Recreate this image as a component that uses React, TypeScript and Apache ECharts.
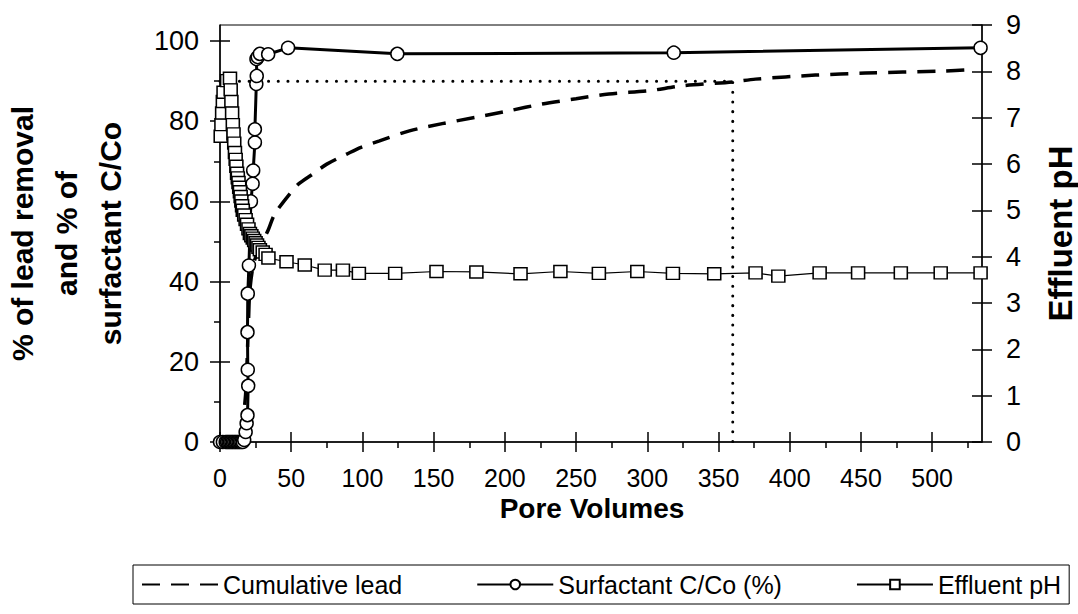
import React, { useEffect, useRef } from "react";
import * as echarts from "echarts";

// ---- data ----
const leadPV = [0, 14, 16, 17, 18, 19, 20, 21, 24, 30, 34, 38.5, 49, 55, 65, 75, 89, 99, 112, 133, 156, 180, 203, 226, 250, 273, 301, 324, 360, 376, 418, 453, 506, 530];
const leadPct = [0, 0, 3, 8, 12, 20, 30, 38, 45, 50, 53, 56.9, 61.9, 64.3, 66.8, 69.3, 71.8, 73.5, 75.1, 77.6, 79.4, 81, 82.6, 84.3, 85.6, 86.8, 87.6, 88.8, 89.8, 90.5, 91.5, 92, 92.5, 92.9];

const surfPV = [0, 2, 4, 5, 6, 7, 8, 9, 10, 11, 12, 13, 14, 15, 16, 17, 18, 18.7, 19.3, 19.8, 19.5, 19.3, 19.5, 20.3, 21, 21.7, 22.9, 23.3, 24.5, 24.5, 25.5, 25.8, 25.6, 26.5, 28, 33.8, 47.8, 124.5, 318.6, 534];
const surfPct = [0, 0, 0, 0, 0, 0, 0, 0, 0, 0, 0, 0, 0, 0, 0, 0.5, 2.5, 4.7, 6.7, 14, 18, 27.4, 37, 44, 52, 60, 64.4, 67.7, 74.7, 78, 89.3, 91.3, 95.5, 96, 96.8, 96.7, 98.3, 96.8, 97.1, 98.3];

const phPV = [0.5, 1, 1.5, 2, 2.5, 5, 7, 7.5, 8, 8.5, 9, 9.5, 10, 10.5, 11, 11.5, 12, 12.5, 13, 13.5, 14, 14.5, 15, 15.5, 16, 17, 18, 19, 20, 21, 22, 23, 24, 25, 26, 27, 28, 30, 32, 34, 46.7, 59.5, 73.5, 86.3, 97.5, 123, 152, 180, 211, 239, 266, 293, 318, 347, 376, 392, 421, 448, 478, 506, 534];
const phVal = [6.6, 6.85, 7.1, 7.35, 7.55, 7.8, 7.85, 7.6, 7.35, 7.1, 6.85, 6.65, 6.45, 6.25, 6.1, 5.95, 5.8, 5.7, 5.6, 5.5, 5.4, 5.3, 5.2, 5.1, 5.0, 4.9, 4.8, 4.7, 4.6, 4.5, 4.45, 4.4, 4.35, 4.3, 4.25, 4.2, 4.15, 4.1, 4.05, 3.97, 3.89, 3.82, 3.71, 3.71, 3.64, 3.64, 3.68, 3.67, 3.63, 3.68, 3.64, 3.68, 3.64, 3.63, 3.65, 3.58, 3.65, 3.65, 3.65, 3.65, 3.65];

const guidePV = [0, 360, 360];
const guidePct = [90, 90, 0];

const xMajor = [0, 50, 100, 150, 200, 250, 300, 350, 400, 450, 500];
const xMinor = [25, 75, 125, 175, 225, 275, 325, 375, 425, 475, 525];
const yLeftMajor = [0, 20, 40, 60, 80, 100];
const yLeftMinor = [10, 30, 50, 70, 90];
const yRightMajor = [0, 1, 2, 3, 4, 5, 6, 7, 8, 9];

const X_MAX = 535;
const YL_MAX = 104;
const YR_MAX = 9;

const FONT = "'Liberation Sans', Arial, sans-serif";

const pairs = (xs: number[], ys: number[]) => xs.map((x, i) => [x, ys[i]]);

export default function App() {
  const ref = useRef<HTMLDivElement>(null);
  useEffect(() => {
    if (!ref.current) return;
    const chart = echarts.init(ref.current, undefined, { renderer: "svg" });
    const black = "#000";
    const tickStyle = { color: black, width: 1.5 };
    const hidden = { show: false };
    chart.setOption({
      animation: false,
      backgroundColor: "#fff",
      textStyle: { fontFamily: FONT, color: black },
      grid: {
        left: 220,
        right: 96,
        top: 25,
        bottom: 172,
        show: true,
        borderColor: black,
        borderWidth: 1,
        backgroundColor: "transparent",
        containLabel: false,
        outerBoundsMode: "none",
      },
      legend: {
        data: ["Cumulative lead", "Surfactant C/Co (%)", "Effluent pH"],
        left: 133,
        top: 565,
        orient: "horizontal",
        borderColor: black,
        borderWidth: 1,
        padding: [7, 8, 7, 8],
        itemGap: 74,
        itemWidth: 76,
        itemHeight: 12,
        textStyle: { fontSize: 25, color: black, fontFamily: FONT },
      },
      xAxis: [
        {
          type: "value",
          min: 0,
          max: X_MAX,
          position: "bottom",
          axisLine: { show: true, onZero: false, lineStyle: tickStyle },
          axisTick: { show: true, length: 10, inside: false, customValues: xMajor, lineStyle: tickStyle },
          axisLabel: { customValues: xMajor, fontSize: 25, color: black, margin: 23, fontFamily: FONT },
          splitLine: hidden,
          name: "Pore Volumes",
          nameLocation: "middle",
          nameGap: 52,
          nameTextStyle: { fontSize: 28, fontWeight: "bold", color: black, fontFamily: FONT, padding: [0, 18, 0, 0] },
        },
        {
          type: "value",
          min: 0,
          max: X_MAX,
          position: "bottom",
          axisLine: { show: false, onZero: false },
          axisTick: { show: true, length: 10, inside: true, customValues: xMajor, lineStyle: tickStyle },
          axisLabel: hidden,
          splitLine: hidden,
        },
        {
          type: "value",
          min: 0,
          max: X_MAX,
          position: "bottom",
          axisLine: { show: false, onZero: false },
          axisTick: { show: true, length: 6, inside: false, customValues: xMinor, lineStyle: tickStyle },
          axisLabel: hidden,
          splitLine: hidden,
        },
      ],
      yAxis: [
        {
          type: "value",
          min: 0,
          max: YL_MAX,
          position: "left",
          axisLine: { show: true, onZero: false, lineStyle: tickStyle },
          axisTick: { show: true, length: 10, inside: false, customValues: yLeftMajor, lineStyle: tickStyle },
          axisLabel: { customValues: yLeftMajor, fontSize: 27, color: black, margin: 21, fontFamily: FONT },
          splitLine: hidden,
          name: "% of lead removal\nand % of\nsurfactant C/Co",
          nameLocation: "middle",
          nameRotate: 90,
          nameGap: 88,
          nameTextStyle: { fontSize: 30, fontWeight: "bold", color: black, lineHeight: 44, fontFamily: FONT },
        },
        {
          type: "value",
          min: 0,
          max: YL_MAX,
          position: "left",
          axisLine: { show: false, onZero: false },
          axisTick: { show: true, length: 10, inside: true, customValues: yLeftMajor, lineStyle: tickStyle },
          axisLabel: hidden,
          splitLine: hidden,
        },
        {
          type: "value",
          min: 0,
          max: YL_MAX,
          position: "left",
          axisLine: { show: false, onZero: false },
          axisTick: { show: true, length: 6, inside: false, customValues: yLeftMinor, lineStyle: tickStyle },
          axisLabel: hidden,
          splitLine: hidden,
        },
        {
          type: "value",
          min: 0,
          max: YR_MAX,
          position: "right",
          axisLine: { show: true, onZero: false, lineStyle: tickStyle },
          axisTick: { show: true, length: 10, inside: false, customValues: yRightMajor, lineStyle: tickStyle },
          axisLabel: { customValues: yRightMajor, fontSize: 27, color: black, margin: 24, fontFamily: FONT },
          splitLine: hidden,
          name: "Effluent pH",
          nameLocation: "middle",
          nameRotate: 90,
          nameGap: 62,
          nameTextStyle: { fontSize: 33, fontWeight: "bold", color: black, fontFamily: FONT },
        },
        {
          type: "value",
          min: 0,
          max: YR_MAX,
          position: "right",
          axisLine: { show: false, onZero: false },
          axisTick: { show: true, length: 10, inside: true, customValues: yRightMajor, lineStyle: tickStyle },
          axisLabel: hidden,
          splitLine: hidden,
        },
      ],
      series: [
        {
          name: "guide",
          type: "line",
          xAxisIndex: 0,
          yAxisIndex: 0,
          data: pairs(guidePV, guidePct),
          symbol: "none",
          silent: true,
          lineStyle: { color: black, width: 3, type: [0.1, 9.6], cap: "round" },
          z: 1,
        },
        {
          name: "Cumulative lead",
          type: "line",
          xAxisIndex: 0,
          yAxisIndex: 0,
          data: pairs(leadPV, leadPct),
          symbol: "none",
          smooth: 0.3,
          lineStyle: { color: black, width: 3.5, type: [18, 11] },
          itemStyle: { color: "rgba(0,0,0,0)", borderWidth: 0 },
          z: 2,
        },
        {
          name: "Surfactant C/Co (%)",
          type: "line",
          xAxisIndex: 0,
          yAxisIndex: 0,
          data: pairs(surfPV, surfPct),
          symbol: "circle",
          symbolSize: 13,
          showAllSymbol: true,
          lineStyle: { color: black, width: 3 },
          itemStyle: { color: "#fff", borderColor: black, borderWidth: 1.5 },
          z: 3,
        },
        {
          name: "Effluent pH",
          type: "line",
          xAxisIndex: 0,
          yAxisIndex: 3,
          data: pairs(phPV, phVal),
          symbol: "rect",
          symbolSize: [13, 12],
          showAllSymbol: true,
          lineStyle: { color: black, width: 1.2 },
          itemStyle: { color: "#fff", borderColor: black, borderWidth: 1.5 },
          z: 4,
        },
      ],
    });
    return () => chart.dispose();
  }, []);
  return (
    <div
      ref={ref}
      style={{ position: "fixed", left: 0, top: 0, width: 1078, height: 614, background: "#fff" }}
    />
  );
}
